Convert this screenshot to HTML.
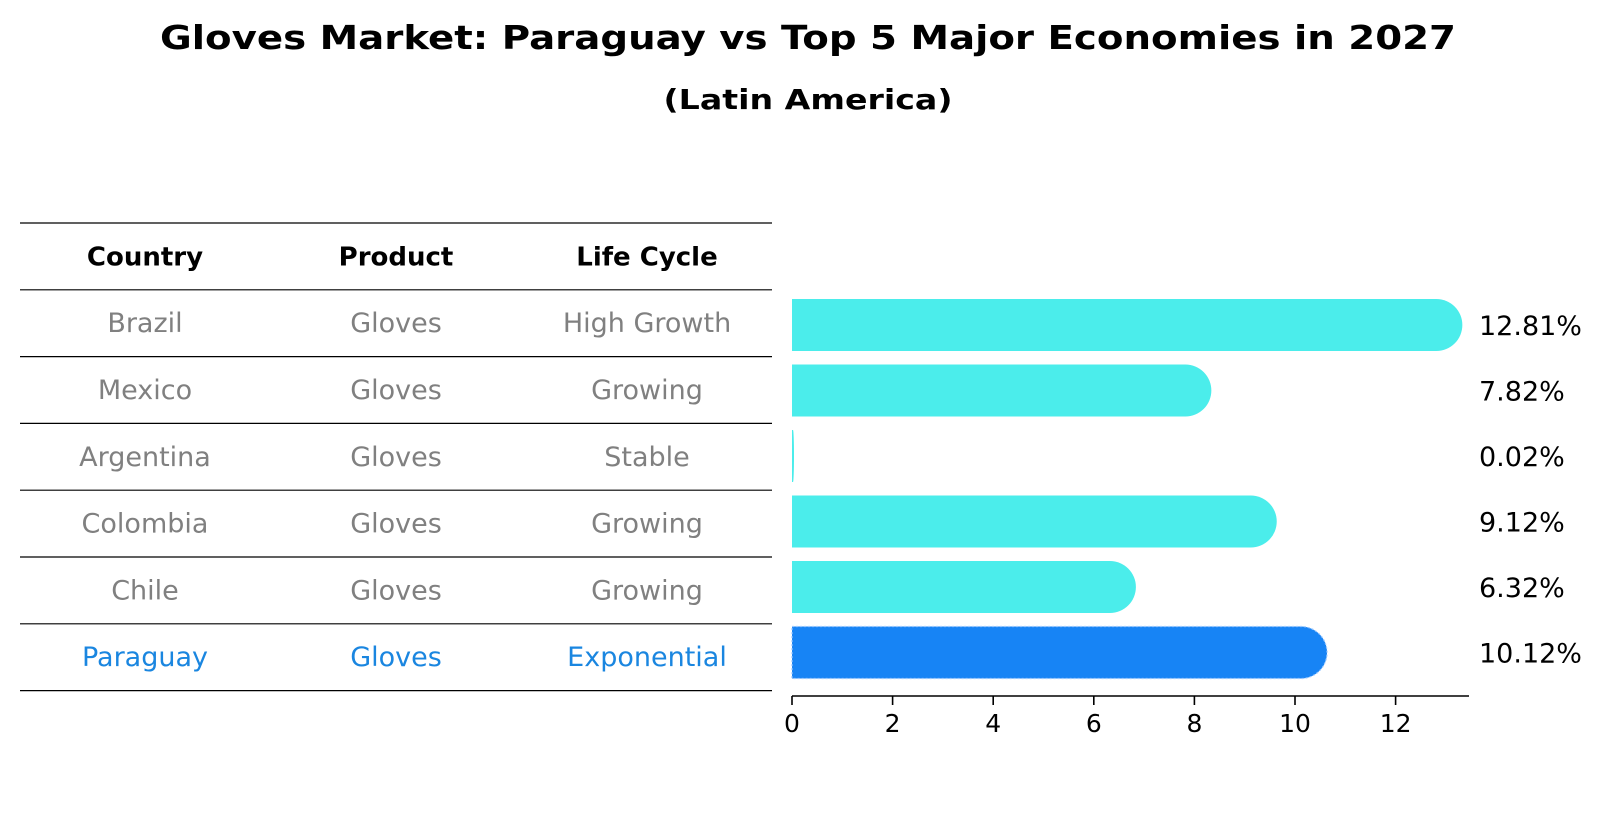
<!DOCTYPE html>
<html><head><meta charset="utf-8"><style>
html,body{margin:0;padding:0;background:#fff;}
svg{display:block;font-family:"DejaVu Sans","Liberation Sans",sans-serif;}
</style></head><body>
<svg id="chart" width="1604" height="823" viewBox="0 0 1604 823" xmlns="http://www.w3.org/2000/svg">
<text x="808" y="49" text-anchor="middle" font-size="33" font-weight="bold" textLength="1296" lengthAdjust="spacingAndGlyphs">Gloves Market: Paraguay vs Top 5 Major Economies in 2027</text>
<text x="808" y="109" text-anchor="middle" font-size="28" font-weight="bold" textLength="289" lengthAdjust="spacingAndGlyphs">(Latin America)</text>
<g id="table"></g>
<g id="bars"></g>
<g id="axis"></g>
</svg>
<script>
const countries = ["Brazil","Mexico","Argentina","Colombia","Chile","Paraguay"];
const products = ["Gloves","Gloves","Gloves","Gloves","Gloves","Gloves"];
const lifeCycles = ["High Growth","Growing","Stable","Growing","Growing","Exponential"];
const growthValues = [12.81,7.82,0.02,9.12,6.32,10.12];
const valueLabels = ["12.81%","7.82%","0.02%","9.12%","6.32%","10.12%"];
const tickValues = [0,2,4,6,8,10,12];
const headers = ["Country","Product","Life Cycle"];

const NS = "http://www.w3.org/2000/svg";
function mk(tag, attrs, parent){const e=document.createElementNS(NS,tag);for(const k in attrs)e.setAttribute(k,attrs[k]);parent.appendChild(e);return e;}
const x0=792, pxPerUnit=50.3;
function xScale(v){return x0+v*pxPerUnit;}
function barY(i){return 325+i*65.5;}
const table=document.getElementById('table');
const bars=document.getElementById('bars');
const axis=document.getElementById('axis');
const colX=[145,396,647];
const lineY0=223, rowH=66.8;
for(let i=0;i<=7;i++){
  const l=mk('line',{x1:20,x2:772,y1:lineY0+i*rowH,y2:lineY0+i*rowH,stroke:'#000','stroke-width':1.2},table);
  
  
}
headers.forEach((h,j)=>{
  const t=mk('text',{x:colX[j],y:lineY0+rowH/2+9,'text-anchor':'middle','font-size':26,'font-weight':'bold'},table);
  t.textContent=h;
  
  
});
countries.forEach((c,i)=>{
  const col = i===countries.length-1 ? '#1a86e0' : '#808080';
  const cy = lineY0+rowH*(i+1)+rowH/2+9;
  [c,products[i],lifeCycles[i]].forEach((v,j)=>{
    const t=mk('text',{x:colX[j],y:cy,'text-anchor':'middle','font-size':27,fill:col},table);
    t.textContent=v;
    
    
  });
});
const bh=52;
growthValues.forEach((v,i)=>{
  const cy=barY(i), w=xScale(v)-x0, r=Math.min(bh/2,Math.max(w,1));
  const isP = i===growthValues.length-1;
  const fill = isP ? '#1784F5' : '#4BEDEB';
  const x1=x0+w;
  const d=`M${x0},${cy-bh/2} L${x1},${cy-bh/2} A${r},${bh/2} 0 0 1 ${x1},${cy+bh/2} L${x0},${cy+bh/2} Z`;
  const p=mk('path',{d:d,fill:fill},bars);
  if(isP){p.setAttribute('stroke','#9cc8ff');p.setAttribute('stroke-width','1.2');p.setAttribute('stroke-dasharray','2 2');}
  
  
  const t=mk('text',{x:1479,y:cy+10,'font-size':27,fill:'#000'},bars);
  t.textContent=valueLabels[i];
  
  
});
const axY=696;
const al=mk('line',{x1:x0,x2:1469,y1:axY,y2:axY,stroke:'#000','stroke-width':1.6},axis);


tickValues.forEach(v=>{
  const tx=xScale(v);
  const tl=mk('line',{x1:tx,x2:tx,y1:axY,y2:axY+9,stroke:'#000','stroke-width':1.6},axis);
  
  
  const t=mk('text',{x:tx,y:axY+36,'text-anchor':'middle','font-size':25},axis);
  t.textContent=String(v);
  
  
});
</script>
</body></html>
